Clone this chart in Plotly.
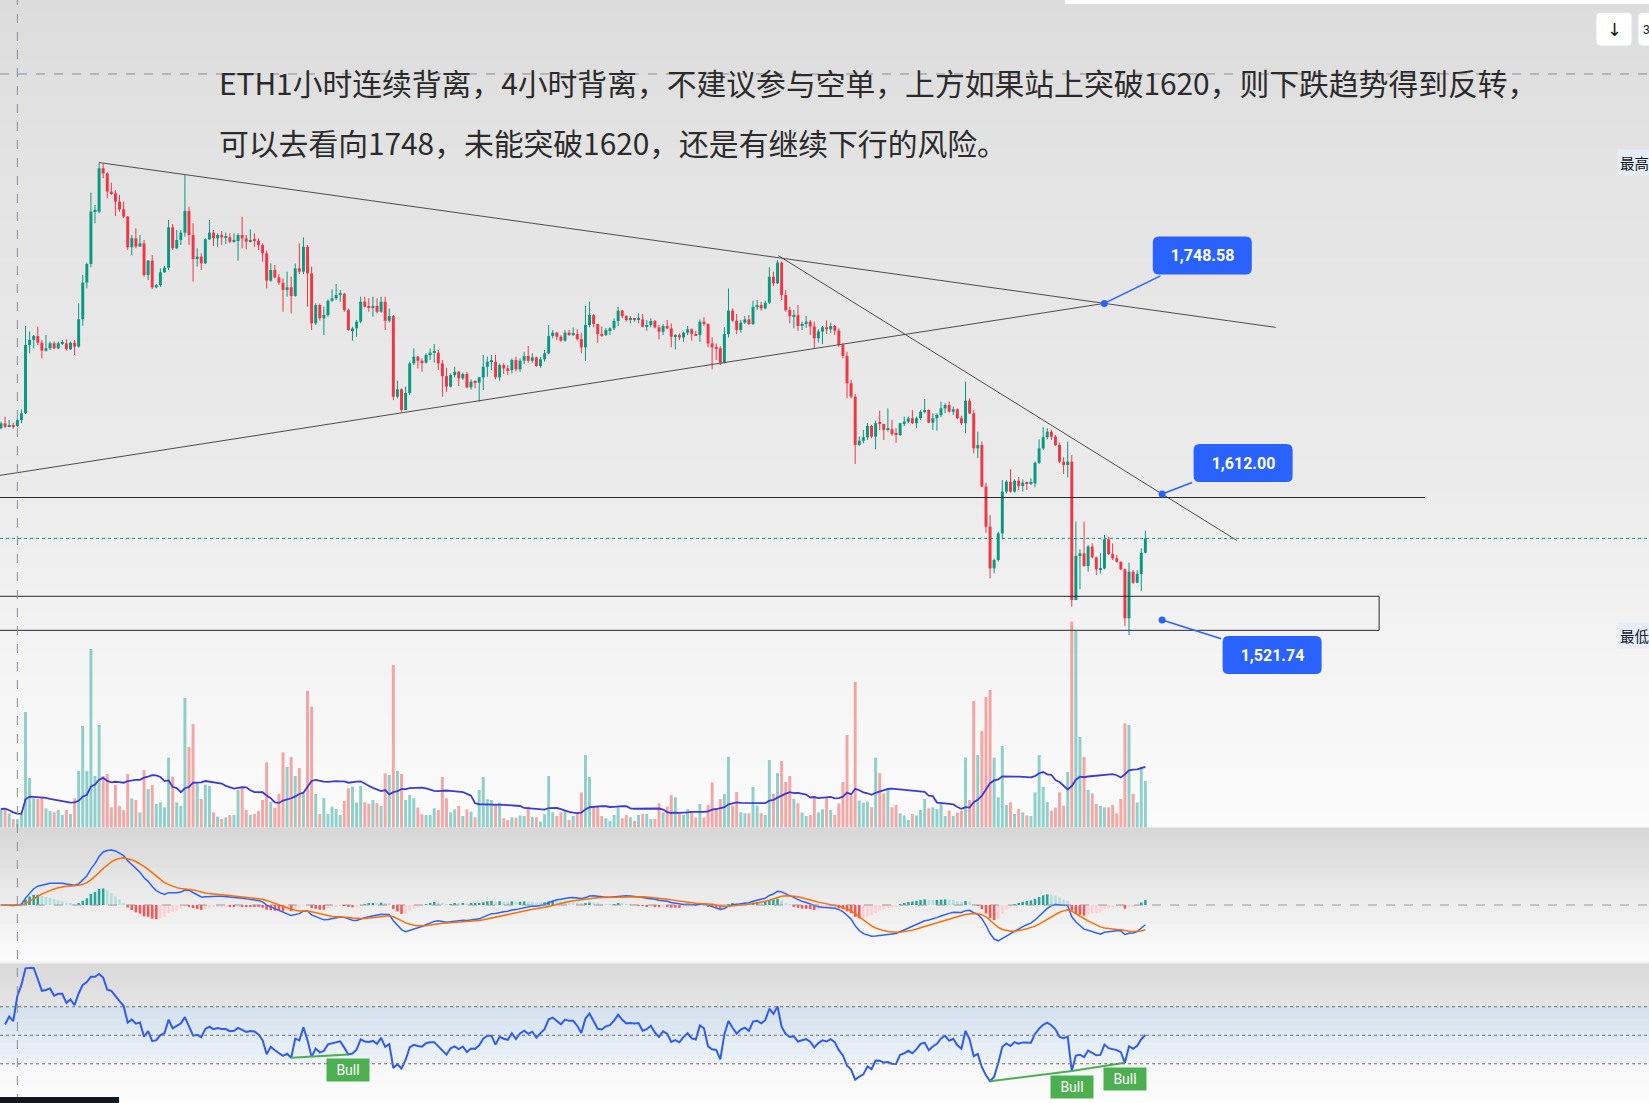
import numpy as np
import pandas as pd
import plotly.graph_objects as go

W, H = 1649, 1103

# ---------------- data (ETH 1h) ----------------
first_open = 1659.1
close = [
    1662.6, 1660.2, 1661.0, 1660.7, 1665.0, 1669.8, 1718.8, 1722.4, 1725.2, 1720.4,
    1714.7, 1716.4, 1720.0, 1716.4, 1720.0, 1720.0, 1715.7, 1720.4, 1717.6, 1737.2,
    1763.5, 1776.8, 1814.3, 1814.3, 1845.4, 1841.8, 1828.7, 1827.5, 1821.5, 1816.0,
    1810.8, 1788.8, 1795.2, 1789.3, 1791.6, 1768.9, 1779.2, 1760.1, 1761.8, 1770.9,
    1774.2, 1803.1, 1788.1, 1794.0, 1799.3, 1814.8, 1797.6, 1780.4, 1782.1, 1777.3,
    1794.5,
    1799.3, 1795.2, 1797.6, 1795.9, 1795.9, 1792.8, 1793.3, 1797.6, 1795.2, 1792.8,
    1794.0, 1793.5, 1790.4, 1784.4, 1764.9, 1772.5, 1767.2, 1763.4, 1758.2, 1760.1,
    1753.9, 1773.7, 1771.3, 1789.2, 1770.1, 1734.3, 1747.4, 1737.9, 1740.2, 1750.5,
    1752.2, 1754.6, 1755.3, 1743.8, 1729.5, 1730.7, 1735.5, 1749.8, 1746.2, 1745.5,
    1746.8, 1742.6, 1749.8, 1736.2, 1739.5, 1681.7, 1687.0, 1672.2, 1684.4,
    1705.6, 1710.4, 1707.5, 1706.1, 1711.6, 1713.3, 1713.3, 1705.6, 1696.5, 1688.9,
    1697.2, 1699.6, 1694.9, 1698.0, 1688.4, 1692.5, 1691.8, 1695.6, 1703.2, 1706.8,
    1706.8, 1695.6, 1704.4, 1702.0, 1700.8, 1708.0, 1701.3, 1707.5, 1710.9, 1707.5,
    1709.9, 1703.7, 1708.5, 1712.8, 1725.2, 1727.6, 1724.7, 1721.9, 1727.6, 1726.6,
    1726.6, 1723.0, 1717.1, 1733.1, 1740.2, 1733.8, 1726.6, 1725.9, 1729.5,
    1730.7, 1736.0, 1743.4, 1739.5, 1736.7, 1737.1, 1736.7, 1737.1, 1731.9, 1733.1,
    1736.0, 1731.4, 1728.3, 1732.4, 1730.7, 1724.7, 1725.9, 1724.2, 1727.6, 1730.0,
    1726.6, 1725.9, 1735.5, 1733.8, 1719.9, 1717.1, 1716.4, 1706.1, 1726.6, 1743.4,
    1736.2, 1729.5, 1734.8, 1737.1, 1733.8, 1746.2, 1747.4, 1745.0, 1749.1, 1767.7,
    1762.9, 1777.8, 1754.6, 1743.8, 1739.5, 1740.2, 1732.4, 1733.8, 1735.5,
    1732.0, 1723.6, 1728.4, 1731.5, 1730.0, 1732.4, 1729.1, 1718.8, 1710.9, 1691.3,
    1681.8, 1647.1, 1650.2, 1652.6, 1660.8, 1653.1, 1662.7, 1662.2, 1657.9, 1658.4,
    1655.0, 1654.3, 1662.7, 1663.9, 1666.3, 1662.7, 1666.3, 1671.0, 1672.2, 1663.1,
    1666.3, 1668.6, 1673.4, 1675.8, 1671.0, 1672.7, 1666.3, 1662.7, 1678.9, 1669.8,
    1644.7, 1647.1,
    1617.3, 1588.6, 1558.7, 1564.7, 1583.8, 1613.7, 1620.8, 1613.7, 1621.5, 1617.7,
    1620.1, 1619.6, 1619.6, 1634.4, 1644.7, 1652.6, 1656.7, 1653.1, 1647.1, 1635.2,
    1632.8, 1635.2, 1536.0, 1567.6, 1569.5, 1560.4, 1574.3, 1566.6, 1558.0, 1558.7,
    1579.5, 1569.0, 1565.9, 1563.5, 1558.0, 1522.9, 1556.3, 1548.4, 1554.7, 1569.9,
    1580.2,
]
high = [
    1663.8, 1667.4, 1665.0, 1663.1, 1666.2, 1672.7, 1732.4, 1728.4, 1726.0, 1731.9,
    1722.4, 1726.0, 1721.2, 1721.2, 1721.2, 1722.4, 1722.8, 1721.2, 1722.4, 1748.6,
    1769.0, 1777.8, 1828.0, 1819.1, 1849.5, 1848.5, 1842.5, 1835.1, 1829.9, 1826.3,
    1821.5, 1811.2, 1797.6, 1802.4, 1797.6, 1794.0, 1779.7, 1783.3, 1762.5, 1773.7,
    1775.4, 1808.4, 1805.5, 1801.2, 1801.2, 1840.6, 1817.9, 1806.0, 1788.1, 1784.5,
    1795.2,
    1808.3, 1801.2, 1798.8, 1800.5, 1799.3, 1798.8, 1798.8, 1798.8, 1810.7, 1797.6,
    1801.6, 1798.8, 1795.2, 1791.6, 1786.4, 1777.3, 1776.1, 1769.6, 1766.5, 1771.3,
    1767.7, 1777.3, 1791.6, 1795.9, 1790.5, 1774.9, 1748.6, 1748.6, 1746.2, 1751.5,
    1758.6, 1762.5, 1758.2, 1756.3, 1745.0, 1731.9, 1736.7, 1753.4, 1753.4, 1752.2,
    1753.4, 1752.2, 1753.4, 1753.4, 1745.0, 1740.3, 1693.2, 1687.7, 1689.0,
    1706.8, 1716.4, 1710.9, 1709.2, 1712.8, 1716.4, 1719.5, 1715.2, 1708.0, 1702.5,
    1698.4, 1703.2, 1700.3, 1698.9, 1699.6, 1694.2, 1693.7, 1696.0, 1711.6, 1710.4,
    1711.6, 1711.6, 1705.6, 1705.6, 1704.4, 1709.2, 1710.4, 1709.2, 1714.0, 1718.0,
    1712.8, 1710.4, 1710.0, 1715.2, 1733.1, 1729.5, 1728.3, 1725.9, 1729.5, 1729.5,
    1731.4, 1730.0, 1727.6, 1746.7, 1749.8, 1741.0, 1734.0, 1731.9, 1731.0,
    1731.4, 1737.9, 1746.2, 1744.0, 1740.2, 1739.5, 1737.9, 1741.4, 1741.0, 1736.7,
    1737.9, 1736.7, 1733.1, 1733.8, 1736.7, 1734.3, 1726.6, 1727.1, 1728.3, 1732.4,
    1730.7, 1729.0, 1737.1, 1738.6, 1734.3, 1724.2, 1719.9, 1718.0, 1731.4, 1759.4,
    1745.0, 1741.0, 1736.7, 1739.5, 1740.2, 1750.5, 1751.0, 1749.8, 1750.5, 1774.4,
    1771.3, 1779.7, 1778.5, 1758.2, 1746.2, 1743.8, 1747.4, 1735.5, 1739.6,
    1736.7, 1735.5, 1730.0, 1732.4, 1736.3, 1734.8, 1733.1, 1730.7, 1720.0, 1714.0,
    1693.7, 1683.6, 1653.1, 1657.9, 1662.7, 1661.5, 1664.6, 1671.8, 1662.2, 1673.4,
    1665.1, 1659.1, 1663.1, 1667.5, 1667.5, 1672.2, 1667.5, 1672.2, 1679.9, 1672.7,
    1669.8, 1669.8, 1678.2, 1677.0, 1678.2, 1674.6, 1673.4, 1668.0, 1692.5, 1680.6,
    1672.0, 1656.7,
    1649.5, 1620.0, 1596.9, 1565.9, 1585.0, 1622.0, 1622.0, 1629.7, 1622.5, 1624.2,
    1622.5, 1620.8, 1623.2, 1635.2, 1651.2, 1659.8, 1659.1, 1657.9, 1654.3, 1648.8,
    1638.3, 1649.5, 1640.0, 1592.2, 1572.3, 1592.2, 1575.5, 1576.6, 1567.1, 1569.5,
    1582.6, 1581.4, 1576.6, 1568.3, 1563.5, 1558.7, 1562.8, 1557.5, 1557.5, 1573.1,
    1585.7,
]
low = [
    1658.3, 1659.1, 1659.8, 1658.8, 1660.2, 1662.6, 1669.3, 1712.8, 1716.4, 1718.8,
    1709.2, 1714.0, 1715.2, 1715.7, 1715.7, 1718.8, 1714.7, 1715.2, 1711.6, 1716.8,
    1732.6, 1759.4, 1774.4, 1806.0, 1813.1, 1838.2, 1823.9, 1826.3, 1811.2, 1814.3,
    1809.6, 1786.9, 1783.3, 1788.1, 1789.3, 1767.7, 1765.4, 1758.7, 1759.4, 1760.6,
    1770.6, 1772.5, 1786.9, 1787.5, 1790.5, 1796.4, 1790.5, 1764.2, 1774.9, 1772.5,
    1776.8,
    1794.0, 1789.7, 1789.2, 1790.4, 1791.1, 1791.6, 1792.1, 1779.2, 1788.0, 1787.3,
    1792.1, 1789.2, 1786.8, 1778.5, 1759.4, 1764.1, 1766.5, 1761.8, 1742.6, 1753.4,
    1741.4, 1753.4, 1769.6, 1769.6, 1746.2, 1729.5, 1733.1, 1736.2, 1725.9, 1739.0,
    1749.8, 1751.0, 1749.8, 1742.6, 1729.0, 1721.9, 1724.7, 1734.3, 1745.7, 1742.6,
    1739.0, 1741.4, 1741.9, 1729.5, 1735.0, 1679.3, 1680.5, 1671.0, 1675.7,
    1682.9, 1704.4, 1702.0, 1699.6, 1705.5, 1708.0, 1706.1, 1700.8, 1681.7, 1685.3,
    1688.4, 1695.6, 1689.4, 1693.7, 1687.7, 1686.9, 1687.7, 1678.1, 1686.5, 1696.0,
    1700.8, 1694.2, 1693.2, 1698.0, 1697.2, 1698.4, 1700.0, 1699.6, 1705.1, 1706.1,
    1706.1, 1703.2, 1702.5, 1706.8, 1712.3, 1723.5, 1722.3, 1721.1, 1721.1, 1725.2,
    1725.2, 1722.0, 1712.8, 1707.5, 1731.4, 1731.4, 1720.4, 1724.7, 1725.2,
    1725.9, 1729.5, 1732.4, 1738.0, 1735.5, 1734.3, 1735.5, 1734.3, 1731.4, 1729.0,
    1731.4, 1730.7, 1722.8, 1725.9, 1730.0, 1717.1, 1715.6, 1722.3, 1721.1, 1725.9,
    1721.9, 1725.2, 1721.1, 1732.4, 1717.1, 1701.3, 1708.0, 1704.4, 1705.6, 1724.2,
    1735.5, 1726.6, 1727.6, 1733.8, 1733.1, 1733.1, 1743.8, 1743.4, 1744.3, 1748.1,
    1761.0, 1762.5, 1751.0, 1742.6, 1734.3, 1730.7, 1729.0, 1729.5, 1731.0,
    1726.0, 1716.4, 1720.5, 1719.5, 1726.7, 1727.2, 1726.0, 1717.6, 1709.2, 1680.6,
    1680.6, 1633.5, 1646.4, 1648.3, 1650.7, 1651.9, 1644.0, 1657.9, 1650.7, 1656.7,
    1653.6, 1648.8, 1653.6, 1660.8, 1662.7, 1662.2, 1659.1, 1665.1, 1669.8, 1662.7,
    1657.9, 1657.4, 1667.0, 1669.8, 1670.3, 1668.6, 1665.5, 1661.5, 1655.5, 1669.3,
    1641.2, 1637.6,
    1616.8, 1584.3, 1551.6, 1555.1, 1563.5, 1579.5, 1612.5, 1613.0, 1613.0, 1614.9,
    1613.7, 1614.9, 1618.4, 1616.8, 1633.5, 1643.5, 1651.2, 1650.7, 1646.4, 1634.0,
    1626.3, 1623.9, 1531.3, 1536.0, 1543.7, 1559.9, 1556.3, 1565.9, 1554.0, 1555.1,
    1558.0, 1568.3, 1564.7, 1562.8, 1557.5, 1517.4, 1511.0, 1547.5, 1548.0, 1542.7,
    1569.5,
]
volume_k = [
    18.3, 19.0, 14.0, 8.3, 8.3, 13.0, 115.3, 49.3, 29.0, 28.3,
    30.3, 19.0, 16.3, 15.0, 17.3, 12.3, 17.3, 13.3, 29.0, 56.3,
    101.3, 56.3, 178.3, 51.3, 102.3, 51.3, 53.3, 20.0, 42.3, 21.3,
    17.3, 53.3, 29.0, 27.3, 15.0, 57.3, 38.3, 42.3, 23.3, 25.0,
    20.0, 69.7, 50.7, 25.0, 21.3, 129.3, 80.3, 103.3, 44.0, 28.3,
    42.7, 41.3, 15.0, 10.7, 8.3, 10.0, 12.0, 12.3, 37.3, 39.7,
    17.3, 12.3, 13.3, 16.3, 27.3, 65.0, 25.7, 19.7, 33.3, 75.0,
    60.3, 70.3, 51.3, 59.3, 34.0, 136.3, 120.7, 33.3, 13.3, 29.3,
    13.3, 20.7, 18.3, 12.3, 26.3, 39.0, 40.7, 24.7, 41.3, 25.0,
    23.3, 27.3, 24.0, 21.3, 54.0, 52.3, 162.3, 56.3, 53.3, 27.3,
    32.3, 29.0, 19.7, 13.0, 12.3, 12.3, 19.0, 17.3, 50.3, 29.0,
    15.0, 18.0, 21.3, 11.3, 18.0, 15.7, 10.0, 37.3, 50.3, 28.0,
    27.3, 22.3, 24.7, 9.0, 7.3, 10.0, 9.7, 11.7, 11.3, 20.7,
    10.0, 10.0, 5.7, 13.0, 51.3, 15.0, 11.3, 15.0, 16.3, 7.3,
    11.3, 14.0, 35.0, 72.3, 50.3, 20.7, 21.3, 11.3, 9.0, 6.3,
    12.3, 20.0, 9.0, 12.3, 10.0, 6.3, 12.3, 13.3, 13.3, 8.3,
    8.3, 24.0, 15.0, 20.7, 32.3, 30.0, 14.0, 12.3, 18.0, 15.7,
    9.7, 23.3, 9.7, 22.3, 45.0, 18.3, 28.3, 33.3, 70.3, 21.7,
    35.3, 15.0, 14.0, 14.0, 40.3, 21.7, 14.0, 12.3, 67.3, 33.3,
    54.3, 66.3, 45.3, 51.3, 28.3, 24.0, 14.7, 11.3, 12.3, 30.7,
    14.7, 18.0, 30.0, 17.3, 12.3, 24.0, 45.3, 92.3, 31.7, 145.3,
    26.7, 24.7, 25.7, 20.0, 69.7, 54.0, 34.0, 37.3, 20.0, 22.3,
    14.0, 11.7, 7.3, 13.3, 11.7, 17.3, 28.3, 19.0, 20.0, 18.3,
    23.3, 11.3, 16.7, 11.3, 14.7, 16.7, 69.7, 27.3, 126.3, 72.3,
    96.3, 130.3, 137.3, 69.7, 30.0, 81.3, 22.3, 25.0, 13.3, 18.3,
    15.0, 11.7, 11.3, 35.0, 72.3, 40.3, 25.3, 16.7, 19.7, 35.0,
    21.7, 55.3, 205.7, 196.7, 90.3, 70.3, 37.3, 34.0, 23.3, 21.3,
    20.0, 20.0, 22.3, 14.0, 28.3, 104.0, 102.3, 33.3, 24.7, 60.7,
    46.3,
]

note_line1 = "ETH1小时连续背离，4小时背离，不建议参与空单，上方如果站上突破1620，则下跌趋势得到反转，"
note_line2 = "可以去看向1748，未能突破1620，还是有继续下行的风险。"

# drawing anchors (bar index, price)
trend_top = [(24, 1849.5), (311.9, 1731.4)]
trend_rise = [(-1.0, 1625.0), (269.95, 1748.58)]
trend_fall = [(190.2, 1782.8), (302.4, 1578.7)]
level_line = 1609.5
level_line_end = 348.4
zone_top, zone_bot, zone_end = 1538.7, 1514.3, 337.2
callout_levels = [1748.58, 1612.00, 1521.74]
callout_texts = ["1,748.58", "1,612.00", "1,521.74"]
callout_x = [269.95, 284.1, 284.1]
bull_pairs = [(71, 85), (242, 262), (262, 275)]
crosshair_bar = 4
crosshair_price = 1913.0

# ---------------- scales / styles ----------------
PX_PER_BAR = 4.087
X_LEFT = -1 / PX_PER_BAR
X_RIGHT = X_LEFT + W / PX_PER_BAR
PRICE_PER_PX = 0.7166
P_TOP = 1966.0
MAIN_H = 828
P_BOT = P_TOP - MAIN_H * PRICE_PER_PX

GREEN = "#089981"
RED = "#f23645"
BLUE = "#2962ff"

n = len(close)
idx = np.arange(n)
c = np.array(close)
o = np.array([first_open] + close[:-1])
h = np.array(high)
l = np.array(low)
v = np.array(volume_k)
up = c >= o


def pf(py):
    return 1 - py / H


def hex2rgb(hx):
    hx = hx.lstrip("#")
    return [int(hx[i:i + 2], 16) for i in (0, 2, 4)]


def grad_color(stops, y):
    for (y0, c0), (y1, c1) in zip(stops[:-1], stops[1:]):
        if y0 <= y <= y1:
            t = (y - y0) / (y1 - y0) if y1 > y0 else 0
            a, b = hex2rgb(c0), hex2rgb(c1)
            rgb = [round(a[k] + (b[k] - a[k]) * t) for k in range(3)]
            return "rgb(%d,%d,%d)" % tuple(rgb)
    return stops[-1][1]


shapes = []


def add_grad(stops, step):
    y = stops[0][0]
    yend = stops[-1][0]
    while y < yend:
        y2 = min(y + step, yend)
        col = grad_color(stops, (y + y2) / 2)
        shapes.append(dict(type="rect", xref="paper", yref="paper", x0=0, x1=1,
                           y0=pf(y2), y1=pf(y) + 0.0005, fillcolor=col,
                           line=dict(width=0), layer="below"))
        y = y2


add_grad([(0, "#dcdcdc"), (160, "#e3e3e3"), (480, "#ebebeb"), (640, "#f3f3f3"), (828, "#fbfbfb")], 6)
add_grad([(828, "#d6d6d6"), (905, "#ededed"), (962, "#fcfcfc")], 4)
add_grad([(963, "#d8d8d8"), (1007, "#e4e4e4")], 4)
add_grad([(1007, "#d3e0ee"), (1064, "#eef3f8")], 4)
add_grad([(1064, "#f6f6f6"), (1103, "#fdfdfd")], 4)
shapes.append(dict(type="rect", xref="paper", yref="paper", x0=0, x1=1, y0=pf(963.5), y1=pf(961),
                   fillcolor="#f4f4f4", line=dict(width=0), layer="below"))

fig = go.Figure()

# ---------------- volume ----------------
vol_colors = np.where(up, "rgba(38,166,154,0.5)", "rgba(239,83,80,0.5)")
fig.add_trace(go.Bar(x=idx, y=v, yaxis="y2", width=0.72, marker=dict(color=vol_colors, line=dict(width=0)),
                     hoverinfo="skip"))
vol_ma = pd.Series(v).rolling(20, min_periods=1).mean()
fig.add_trace(go.Scatter(x=idx, y=vol_ma, yaxis="y2", mode="lines",
                         line=dict(color="#3a3ad8", width=1.8), hoverinfo="skip"))


# ---------------- candles ----------------
def wick_xy(mask):
    xs, ys = [], []
    for i in idx[mask]:
        xs += [i, i, None]
        ys += [l[i], h[i], None]
    return xs, ys


for mask, col in ((up, GREEN), (~up, RED)):
    wx, wy = wick_xy(mask)
    fig.add_trace(go.Scatter(x=wx, y=wy, mode="lines", line=dict(color=col, width=1), hoverinfo="skip"))
    base = np.minimum(o, c)[mask]
    hgt = np.maximum(np.abs(c - o), 0.75)[mask]
    fig.add_trace(go.Bar(x=idx[mask], y=hgt, base=base, width=0.72,
                         marker=dict(color=col, line=dict(width=0)), hoverinfo="skip"))

# ---------------- drawings ----------------
LINE_GRAY = "#4d4d4d"
for seg in (trend_top, trend_rise, trend_fall):
    fig.add_trace(go.Scatter(x=[p[0] for p in seg], y=[p[1] for p in seg], mode="lines",
                             line=dict(color=LINE_GRAY, width=1), hoverinfo="skip"))
fig.add_trace(go.Scatter(x=[X_LEFT, level_line_end], y=[level_line, level_line], mode="lines",
                         line=dict(color="#2a2a2a", width=1.1), hoverinfo="skip"))
shapes.append(dict(type="rect", xref="x", yref="y", x0=X_LEFT - 1, x1=zone_end, y0=zone_bot, y1=zone_top,
                   line=dict(color="#2a2a2a", width=1), fillcolor="rgba(0,0,0,0)"))
# last price dotted line
shapes.append(dict(type="line", xref="paper", yref="y", x0=0, x1=1, y0=c[-1], y1=c[-1],
                   line=dict(color=GREEN, width=1, dash="dot")))
# crosshair
shapes.append(dict(type="line", xref="x", yref="paper", x0=crosshair_bar, x1=crosshair_bar, y0=0, y1=1,
                   line=dict(color="#8a8d96", width=1, dash="dash")))
shapes.append(dict(type="line", xref="paper", yref="y", x0=0, x1=1, y0=crosshair_price, y1=crosshair_price,
                   line=dict(color="#8a8d96", width=1, dash="dash")))

# callouts
annotations = []
offsets = [(98, -48), (81, -31), (110, 35)]
BOX_W, BOX_H, RAD = 99, 38, 6


def rrect_path(x0, y0, x1, y1, rx, ry):
    return (f"M{x0 + rx},{y0} L{x1 - rx},{y0} Q{x1},{y0} {x1},{y0 + ry} L{x1},{y1 - ry} "
            f"Q{x1},{y1} {x1 - rx},{y1} L{x0 + rx},{y1} Q{x0},{y1} {x0},{y1 - ry} "
            f"L{x0},{y0 + ry} Q{x0},{y0} {x0 + rx},{y0} Z")


for px_, lv, txt, (ax, ay) in zip(callout_x, callout_levels, callout_texts, offsets):
    cx = px_ + ax / PX_PER_BAR
    cy = lv - ay * PRICE_PER_PX
    hw = BOX_W / 2 / PX_PER_BAR
    hh = BOX_H / 2 * PRICE_PER_PX
    shapes.append(dict(type="path", xref="x", yref="y",
                       path=rrect_path(cx - hw, cy - hh, cx + hw, cy + hh, RAD / PX_PER_BAR, RAD * PRICE_PER_PX),
                       fillcolor=BLUE, line=dict(width=0)))
    annotations.append(dict(x=px_, y=lv, xref="x", yref="y", text=f"<b>{txt}</b>", showarrow=True,
                            ax=ax, ay=ay, arrowhead=0, arrowwidth=1.5, arrowcolor=BLUE, standoff=0,
                            width=BOX_W, height=BOX_H, font=dict(color="white", size=16, family="Roboto")))
fig.add_trace(go.Scatter(x=callout_x, y=callout_levels, mode="markers",
                         marker=dict(color=BLUE, size=7), hoverinfo="skip"))

# ---------------- MACD ----------------
cs = pd.Series(c)
ema12 = cs.ewm(span=12, adjust=False).mean()
ema26 = cs.ewm(span=26, adjust=False).mean()
macd = ema12 - ema26
signal = macd.ewm(span=9, adjust=False).mean()
hist = macd - signal
hcol = []
prev = 0.0
for hv in hist:
    if hv >= 0:
        hcol.append("#26a69a" if hv >= prev else "#b2dfdb")
    else:
        hcol.append("#ff5252" if hv < prev else "#ffcdd2")
    prev = hv
fig.add_trace(go.Bar(x=idx, y=hist, yaxis="y3", width=0.62, marker=dict(color=hcol, line=dict(width=0)),
                     hoverinfo="skip"))
fig.add_trace(go.Scatter(x=idx, y=macd, yaxis="y3", mode="lines", line=dict(color=BLUE, width=1.5),
                         hoverinfo="skip"))
fig.add_trace(go.Scatter(x=idx, y=signal, yaxis="y3", mode="lines", line=dict(color="#ff6d00", width=1.5),
                         hoverinfo="skip"))
s = max(macd.max() / 55.0, -macd.min() / 50.0)
macd_range = [-(962 - 905) * s, (905 - 829) * s]
shapes.append(dict(type="line", xref="paper", yref="y3", x0=0, x1=1, y0=0, y1=0,
                   line=dict(color="#9a9a9a", width=1, dash="dash")))

# ---------------- RSI ----------------
ps = pd.Series([first_open] + close)
delta = ps.diff().iloc[1:].reset_index(drop=True)
gain = delta.clip(lower=0)
loss = -delta.clip(upper=0)
ag = gain.ewm(alpha=1 / 14, adjust=True).mean()
al = loss.ewm(alpha=1 / 14, adjust=True).mean()
rsi = 100 - 100 / (1 + ag / al)
rsi.iloc[0] = np.nan
fig.add_trace(go.Scatter(x=idx, y=rsi, yaxis="y4", mode="lines", line=dict(color="#2f5cf0", width=2),
                         hoverinfo="skip"))
for lvl in (70, 50, 30):
    shapes.append(dict(type="line", xref="paper", yref="y4", x0=0, x1=1, y0=lvl, y1=lvl,
                       line=dict(color="#6f727c", width=1, dash="dot")))
for a, b in bull_pairs:
    fig.add_trace(go.Scatter(x=[a, b], y=[rsi[a], rsi[b]], yaxis="y4", mode="lines",
                             line=dict(color="#4caf50", width=2), hoverinfo="skip"))
    annotations.append(dict(x=b, y=rsi[b], xref="x", yref="y4", text="Bull", showarrow=False,
                            yanchor="top", yshift=-4, bgcolor="#4caf50", width=40, height=20,
                            font=dict(color="white", size=14, family="Roboto")))

# ---------------- text & chrome ----------------
annotations.append(dict(x=217 / W, y=pf(82), xref="paper", yref="paper", text=note_line1, showarrow=False,
                        xanchor="left", yanchor="middle",
                        font=dict(family="Noto Sans CJK SC", size=29.8, color="#2b2b2b")))
annotations.append(dict(x=217 / W, y=pf(142), xref="paper", yref="paper", text=note_line2, showarrow=False,
                        xanchor="left", yanchor="middle",
                        font=dict(family="Noto Sans CJK SC", size=29.8, color="#2b2b2b")))
for ylab, txt in ((163, "最高"), (635, "最低")):
    annotations.append(dict(x=1617 / W, y=pf(ylab), xref="paper", yref="paper", text=txt, showarrow=False,
                            xanchor="left", yanchor="middle", bgcolor="#e6edf6", borderpad=2,
                            font=dict(family="Noto Sans CJK SC", size=14.5, color="#131722")))


def paper_rrect(x0, y0, x1, y1, r):
    return dict(type="path", xref="paper", yref="paper",
                path=rrect_path(x0 / W, pf(y1), x1 / W, pf(y0), r / W, r / H),
                fillcolor="#ffffff", line=dict(color="#e0e3eb", width=1))


shapes.append(paper_rrect(1596, 12.5, 1632, 46, 5))
shapes.append(paper_rrect(1638, 12.5, 1680, 46, 5))
annotations.append(dict(x=1614 / W, y=pf(29.5), xref="paper", yref="paper", text="↓", showarrow=False,
                        xanchor="center", yanchor="middle",
                        font=dict(family="DejaVu Sans", size=18, color="#131722")))
annotations.append(dict(x=1641 / W, y=pf(29.5), xref="paper", yref="paper", text="3", showarrow=False,
                        xanchor="left", yanchor="middle",
                        font=dict(family="Roboto", size=12, color="#131722")))
shapes.append(dict(type="rect", xref="paper", yref="paper", x0=1065 / W, x1=1, y0=pf(4), y1=1,
                   fillcolor="#ffffff", line=dict(width=0)))
shapes.append(dict(type="rect", xref="paper", yref="paper", x0=0, x1=119 / W, y0=0, y1=pf(1097),
                   fillcolor="#131722", line=dict(width=0)))

ax_common = dict(visible=False, showgrid=False, zeroline=False, fixedrange=True)
fig.update_layout(
    width=W, height=H, margin=dict(l=0, r=0, t=0, b=0),
    paper_bgcolor="#ffffff", plot_bgcolor="rgba(0,0,0,0)",
    showlegend=False, barmode="overlay", hovermode=False,
    xaxis=dict(range=[X_LEFT, X_RIGHT], domain=[0, 1], **ax_common),
    yaxis=dict(range=[P_BOT, P_TOP], domain=[pf(MAIN_H), 1], **ax_common),
    yaxis2=dict(range=[-0.7, MAIN_H - 0.7], overlaying="y", **ax_common),
    yaxis3=dict(range=macd_range, domain=[pf(962), pf(829)], anchor="x", **ax_common),
    yaxis4=dict(range=[2.46, 100.7], domain=[0, pf(963)], anchor="x", **ax_common),
    shapes=shapes, annotations=annotations,
)
fig.write_html("out.html", config={"displayModeBar": False})
